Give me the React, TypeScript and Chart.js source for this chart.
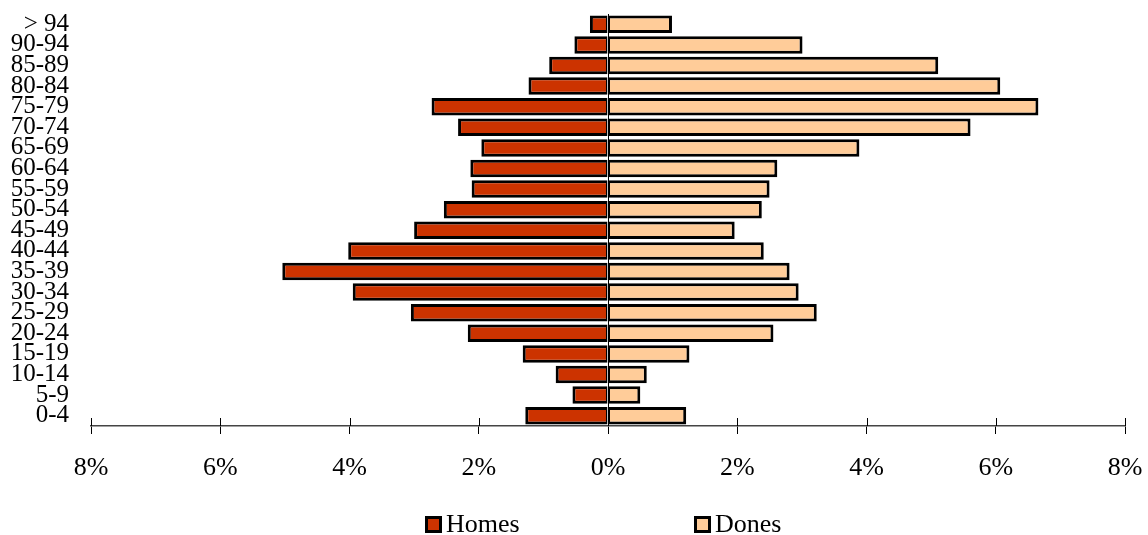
import React, { useEffect, useRef } from "react";
import { Chart, registerables } from "chart.js";

Chart.register(...registerables);

const ageGroups = ["0-4", "5-9", "10-14", "15-19", "20-24", "25-29", "30-34", "35-39", "40-44", "45-49", "50-54", "55-59", "60-64", "65-69", "70-74", "75-79", "80-84", "85-89", "90-94", "> 94"];
const homes = [-1.28, -0.55, -0.81, -1.32, -2.17, -3.05, -3.95, -5.04, -4.02, -3.0, -2.54, -2.11, -2.13, -1.96, -2.32, -2.73, -1.23, -0.91, -0.52, -0.28];
const dones = [1.21, 0.5, 0.6, 1.26, 2.56, 3.23, 2.95, 2.81, 2.41, 1.96, 2.38, 2.5, 2.62, 3.89, 5.61, 6.66, 6.07, 5.11, 3.01, 0.99];
const xTicks = [-8, -6, -4, -2, 0, 2, 4, 6, 8];
const seriesNames = ["Homes", "Dones"];
const colors = ["#CC3300", "#FFCC99"];

const FONT = "'Liberation Serif', 'Times New Roman', serif";

const crossTicks = {
  id: "crossTicks",
  beforeDatasetsDraw(chart: any) {
    const xs = chart.scales.x;
    const { ctx, chartArea } = chart;
    ctx.save();
    ctx.strokeStyle = "#000";
    ctx.lineWidth = 1;
    xTicks.forEach((v) => {
      const px = Math.round(xs.getPixelForValue(v)) + 0.5;
      ctx.beginPath();
      ctx.moveTo(px, chartArea.bottom);
      ctx.lineTo(px, chartArea.bottom - 8);
      ctx.stroke();
    });
    ctx.restore();
  },
};

export default function App() {
  const ref = useRef<HTMLCanvasElement>(null);
  useEffect(() => {
    if (!ref.current) return;
    const chart = new Chart(ref.current, {
      type: "bar",
      data: {
        labels: ageGroups,
        datasets: [
          {
            label: seriesNames[0],
            data: homes,
            backgroundColor: colors[0],
            borderColor: "#000",
            borderWidth: { top: 3, bottom: 3, left: 3, right: 1.5 },
            borderSkipped: false,
            barPercentage: 0.85,
            categoryPercentage: 1,
          },
          {
            label: seriesNames[1],
            data: dones,
            backgroundColor: colors[1],
            borderColor: "#000",
            borderWidth: { top: 3, bottom: 3, left: 1.5, right: 3 },
            borderSkipped: false,
            barPercentage: 0.85,
            categoryPercentage: 1,
          },
        ],
      },
      options: {
        indexAxis: "y",
        animation: false,
        responsive: true,
        maintainAspectRatio: false,
        layout: { padding: { top: 14, right: 23, bottom: 54, left: 0 } },
        plugins: { legend: { display: false }, tooltip: { enabled: false } },
        scales: {
          x: {
            type: "linear",
            stacked: true,
            min: -8,
            max: 8,
            afterBuildTicks: (scale: any) => {
              scale.ticks = xTicks.map((v) => ({ value: v }));
            },
            afterFit: (scale: any) => {
              scale.height = 55;
              scale.paddingLeft = 0;
              scale.paddingRight = 0;
            },
            ticks: {
              color: "#000",
              font: { family: FONT, size: 26 },
              padding: 19,
              maxRotation: 0,
              callback: (v: any) => Math.abs(Number(v)) + "%",
            },
            grid: {
              color: (c: any) => (c.tick && c.tick.value === 0 ? "#000" : "rgba(0,0,0,0)"),
              tickColor: "#000",
              tickLength: 8,
              lineWidth: 1,
            },
            border: { display: true, color: "#444", width: 1.5 },
          },
          y: {
            type: "category",
            stacked: true,
            reverse: true,
            afterFit: (scale: any) => {
              scale.width = 91;
              scale.paddingTop = 0;
              scale.paddingBottom = 0;
            },
            ticks: {
              color: "#000",
              font: { family: FONT, size: 25 },
              padding: 22,
              autoSkip: false,
            },
            grid: { display: false, drawTicks: false },
            border: { display: false },
          },
        },
      },
      plugins: [crossTicks],
    });
    return () => chart.destroy();
  }, []);

  const legendBox = (left: number, color: string) => (
    <div
      style={{
        position: "absolute",
        left,
        top: 516,
        width: 17,
        height: 17,
        boxSizing: "border-box",
        border: "3px solid #000",
        background: color,
      }}
    />
  );
  const legendText = (left: number, text: string) => (
    <div
      style={{
        position: "absolute",
        left,
        top: 511,
        fontFamily: FONT,
        fontSize: 26,
        lineHeight: "26px",
        color: "#000",
        whiteSpace: "nowrap",
      }}
    >
      {text}
    </div>
  );

  return (
    <div style={{ position: "absolute", left: 0, top: 0, width: 1148, height: 535, background: "#fff", overflow: "hidden" }}>
      <canvas ref={ref} />
      {legendBox(425, colors[0])}
      {legendText(446, seriesNames[0])}
      {legendBox(694, colors[1])}
      {legendText(715, seriesNames[1])}
    </div>
  );
}
